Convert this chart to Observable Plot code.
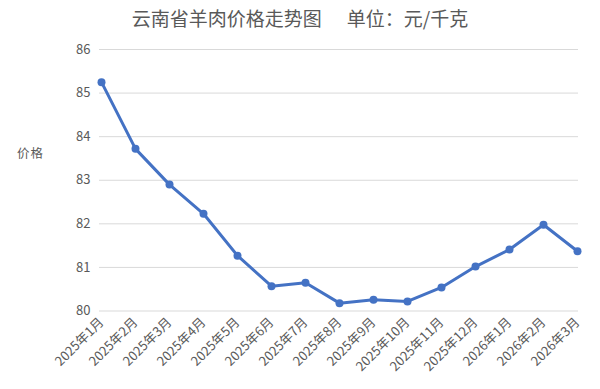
<!DOCTYPE html>
<html><head><meta charset="utf-8">
<script src="https://cdn.jsdelivr.net/npm/d3@7"></script>
<script src="https://cdn.jsdelivr.net/npm/@observablehq/plot@0.6"></script>
<style>
body{margin:0;background:#fff;font-family:"Noto Sans CJK SC","Noto Sans",sans-serif;}
#wrap{position:relative;width:600px;height:389px;}
#title{height:36px;line-height:36px;text-align:center;font-size:19px;color:#595959;white-space:pre;}
#title span+span{margin-left:25px;}
#ylab{position:absolute;left:17px;top:143px;font-size:12.5px;color:#595959;letter-spacing:1px;}
</style></head>
<body><div id="wrap"><div id="title"><span>云南省羊肉价格走势图</span><span>单位：元/千克</span></div><div id="ylab">价格</div><div id="chart"></div></div>
<script>
const months = ["2025年1月","2025年2月","2025年3月","2025年4月","2025年5月","2025年6月","2025年7月","2025年8月","2025年9月","2025年10月","2025年11月","2025年12月","2026年1月","2026年2月","2026年3月"];
const prices = [85.25,83.72,82.90,82.23,81.27,80.57,80.65,80.18,80.26,80.22,80.54,81.02,81.41,81.98,81.37];
const yTicks = [80,81,82,83,84,85,86];
const data = months.map((m,i)=>({month:m, price:prices[i]}));
const color = "#4472C4";
const chart = Plot.plot({
  width:600, height:353,
  marginTop:13, marginBottom:78.5, marginLeft:99, marginRight:22,
  style:{fontFamily:'"Noto Sans CJK SC","Noto Sans",sans-serif', color:"#595959", background:"#fff"},
  x:{type:"point", domain:months, padding:0, label:null},
  y:{domain:[80,86], label:null},
  marks:[
    Plot.gridY(yTicks,{stroke:"#d9d9d9", strokeOpacity:1, strokeWidth:1}),
    Plot.axisY(yTicks,{tickSize:0, tickPadding:9, fontSize:13, label:null}),
    Plot.axisX({tickSize:0, tickPadding:9, tickRotate:-45, fontSize:13, label:null}),
    Plot.line(data,{x:"month", y:"price", stroke:color, strokeWidth:3}),
    Plot.dot(data,{x:"month", y:"price", fill:color, r:4})
  ]
});
document.getElementById("chart").appendChild(chart);
</script></body></html>
